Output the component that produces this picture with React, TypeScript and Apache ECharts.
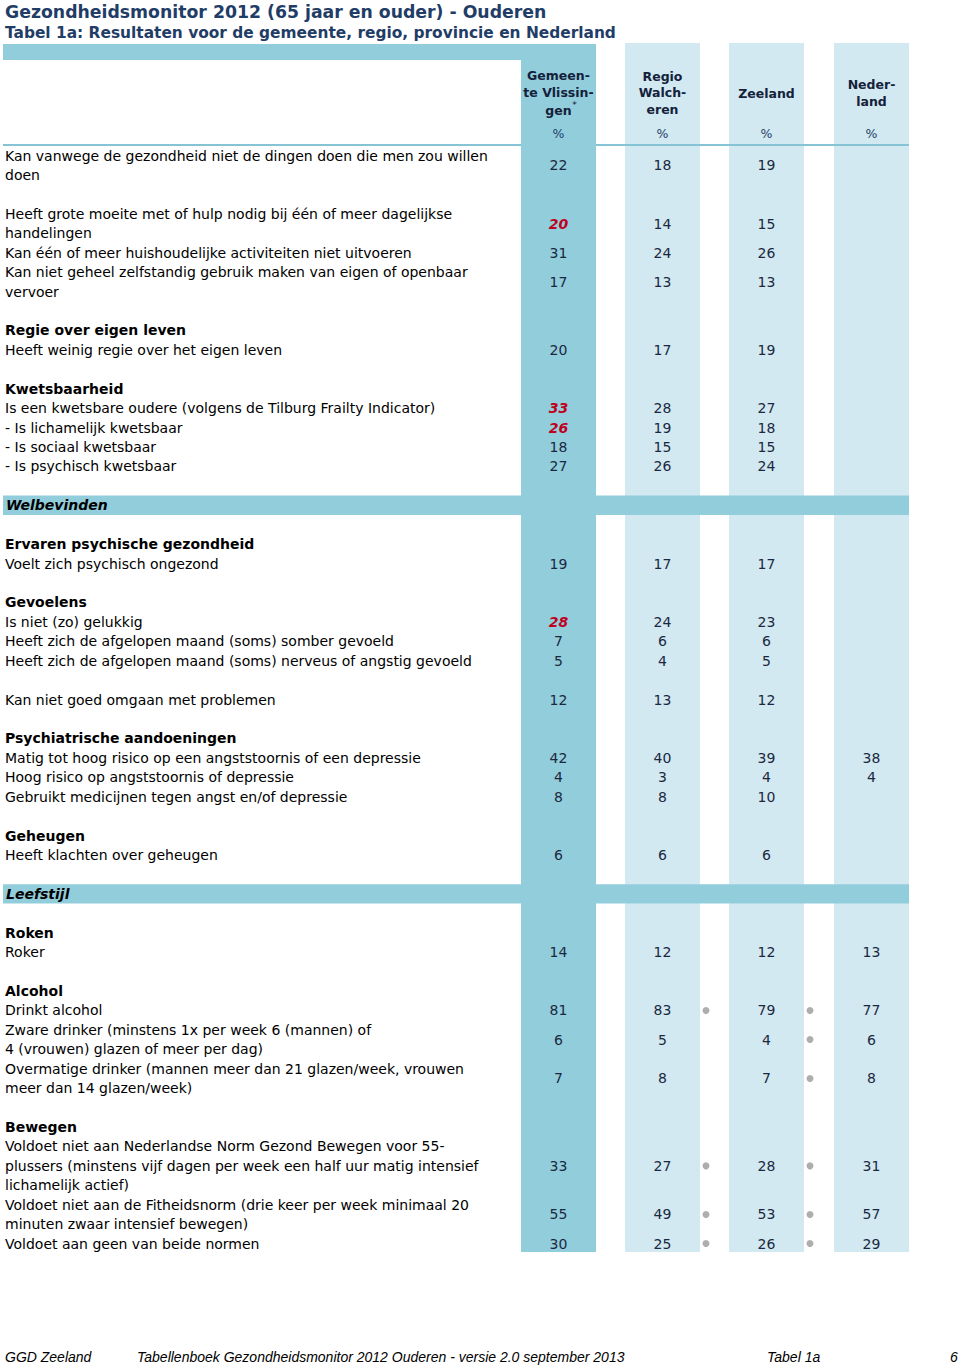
import React, { useEffect, useRef } from "react";
import * as echarts from "echarts";

// ---------- data ----------
const TITLE = "Gezondheidsmonitor 2012 (65 jaar en ouder) - Ouderen";
const SUBTITLE = "Tabel 1a: Resultaten voor de gemeente, regio, provincie en Nederland";
const columnHeaders = [
  ["Gemeen-", "te Vlissin-", "gen"],
  ["Regio", "Walch-", "eren"],
  ["Zeeland"],
  ["Neder-", "land"],
];
const unitLabel = "%";

const indicators = [
  "Kan vanwege de gezondheid niet de dingen doen die men zou willen\ndoen",
  "Heeft grote moeite met of hulp nodig bij één of meer dagelijkse\nhandelingen",
  "Kan één of meer huishoudelijke activiteiten niet uitvoeren",
  "Kan niet geheel zelfstandig gebruik maken van eigen of openbaar\nvervoer",
  "Heeft weinig regie over het eigen leven",
  "Is een kwetsbare oudere (volgens de Tilburg Frailty Indicator)",
  "- Is lichamelijk kwetsbaar",
  "- Is sociaal kwetsbaar",
  "- Is psychisch kwetsbaar",
  "Voelt zich psychisch ongezond",
  "Is niet (zo) gelukkig",
  "Heeft zich de afgelopen maand (soms) somber gevoeld",
  "Heeft zich de afgelopen maand (soms) nerveus of angstig gevoeld",
  "Kan niet goed omgaan met problemen",
  "Matig tot hoog risico op een angststoornis of een depressie",
  "Hoog risico op angststoornis of depressie",
  "Gebruikt medicijnen tegen angst en/of depressie",
  "Heeft klachten over geheugen",
  "Roker",
  "Drinkt alcohol",
  "Zware drinker (minstens 1x per week 6 (mannen) of\n4 (vrouwen) glazen of meer per dag)",
  "Overmatige drinker (mannen meer dan 21 glazen/week, vrouwen\nmeer dan 14 glazen/week)",
  "Voldoet niet aan Nederlandse Norm Gezond Bewegen voor 55-\nplussers (minstens vijf dagen per week een half uur matig intensief\nlichamelijk actief)",
  "Voldoet niet aan de Fitheidsnorm (drie keer per week minimaal 20\nminuten zwaar intensief bewegen)",
  "Voldoet aan geen van beide normen",
];
const indicatorLine = [0, 3, 5, 6, 10, 13, 14, 15, 16, 21, 24, 25, 26, 28, 31, 32, 33, 36, 41, 44, 45, 47, 51, 54, 56];

const gemeente = [22, 20, 31, 17, 20, 33, 26, 18, 27, 19, 28, 7, 5, 12, 42, 4, 8, 6, 14, 81, 6, 7, 33, 55, 30];
const regio = [18, 14, 24, 13, 17, 28, 19, 15, 26, 17, 24, 6, 4, 13, 40, 3, 8, 6, 12, 83, 5, 8, 27, 49, 25];
const zeeland = [19, 15, 26, 13, 19, 27, 18, 15, 24, 17, 23, 6, 5, 12, 39, 4, 10, 6, 12, 79, 4, 7, 28, 53, 26];
const nederland = [null, null, null, null, null, null, null, null, null, null, null, null, null, null, 38, 4, null, null, 13, 77, 6, 8, 31, 57, 29];
const gemeenteSignificant = [1, 5, 6, 10];
const dotRegioZeeland = [19, 22, 23, 24];
const dotZeelandNederland = [19, 20, 21, 22, 23, 24];

const subheadings = ["Regie over eigen leven", "Kwetsbaarheid", "Ervaren psychische gezondheid", "Gevoelens", "Psychiatrische aandoeningen", "Geheugen", "Roken", "Alcohol", "Bewegen"];
const subheadingLine = [9, 12, 20, 23, 30, 35, 40, 43, 50];
const sections = ["Welbevinden", "Leefstijl"];
const sectionLine = [18, 38];

const footer = ["GGD Zeeland", "Tabellenboek Gezondheidsmonitor 2012 Ouderen - versie 2.0 september 2013", "Tabel 1a", "6"];

// ---------- layout ----------
const W = 960;
const H = 1368;
const P = 19.43; // line pitch
const LINE0 = 155.5; // pixel of line 0
const pxToLine = (px: number) => (px - LINE0) / P;
const Y_MIN = pxToLine(0);
const Y_MAX = pxToLine(H);
const COL_X = [558.5, 662.5, 766.5, 871.5];
const COL_HALF = 37.5;
const DOT_X = [706, 810];
const LABEL_X = 5;
const DARK = "#92cddc";
const LIGHT = "#d2e9f1";
const NUM_COLOR = "#1b2840";
const RED = "#c00020";
const FONT = '"DejaVu Sans", Verdana, sans-serif';
const FS = 14;

const bgRects: { x0: number; x1: number; y0: number; y1: number; color: string }[] = [
  { x0: COL_X[1] - COL_HALF, x1: COL_X[1] + COL_HALF, y0: 43, y1: 1252, color: LIGHT },
  { x0: COL_X[2] - COL_HALF, x1: COL_X[2] + COL_HALF, y0: 43, y1: 1252, color: LIGHT },
  { x0: COL_X[3] - COL_HALF, x1: COL_X[3] + COL_HALF, y0: 43, y1: 1252, color: LIGHT },
  { x0: 3, x1: 909, y0: 144, y1: 146, color: "#86c3d4" },
  ...sectionLine.map((l) => ({ x0: 3, x1: 909, y0: LINE0 + (l - 0.5) * P, y1: LINE0 + (l + 0.5) * P, color: DARK })),
  { x0: 3, x1: COL_X[0] + COL_HALF, y0: 44, y1: 60, color: DARK },
  { x0: COL_X[0] - COL_HALF, x1: COL_X[0] + COL_HALF, y0: 44, y1: 1252, color: DARK },
];

const nLines = (i: number) => indicators[i].split("\n").length;
const centerLine = (i: number) => indicatorLine[i] + (nLines(i) - 1) / 2;

function textEl(x: number, y: number, text: string, font: string, fill: string, align: string) {
  return {
    type: "text",
    x,
    y,
    z: 20,
    style: {
      text,
      font,
      fill,
      align,
      textAlign: align,
      verticalAlign: "middle",
      textVerticalAlign: "middle",
    },
  };
}

function buildOption() {
  const series: any[] = [];

  series.push({
    type: "custom",
    silent: true,
    data: bgRects.map((r) => [r.x0, pxToLine(r.y0), r.x1, pxToLine(r.y1)]),
    encode: { x: [0, 2], y: [1, 3] },
    renderItem: (params: any, api: any) => {
      const r = bgRects[params.dataIndex];
      const p0 = api.coord([api.value(0), api.value(1)]);
      const p1 = api.coord([api.value(2), api.value(3)]);
      return {
        type: "rect",
        shape: { x: p0[0], y: p0[1], width: p1[0] - p0[0], height: p1[1] - p0[1] },
        style: { fill: r.color },
      };
    },
    z: 1,
  });

  // indicator labels
  series.push({
    type: "custom",
    silent: true,
    data: indicators.map((_, i) => [LABEL_X, indicatorLine[i]]),
    renderItem: (params: any, api: any) => {
      const i = params.dataIndex;
      const lines = indicators[i].split("\n");
      return {
        type: "group",
        children: lines.map((ln, k) => {
          const p = api.coord([api.value(0), api.value(1) + k]);
          return textEl(p[0], p[1], ln, `${FS}px ${FONT}`, "#000", "left");
        }),
      };
    },
    z: 3,
  });

  // subheadings
  series.push({
    type: "custom",
    silent: true,
    data: subheadings.map((_, i) => [LABEL_X, subheadingLine[i]]),
    renderItem: (params: any, api: any) => {
      const p = api.coord([api.value(0), api.value(1)]);
      return textEl(p[0], p[1], subheadings[params.dataIndex], `bold ${FS}px ${FONT}`, "#000", "left");
    },
    z: 3,
  });

  // sections
  series.push({
    type: "custom",
    silent: true,
    data: sections.map((_, i) => [LABEL_X + 1, sectionLine[i]]),
    renderItem: (params: any, api: any) => {
      const p = api.coord([api.value(0), api.value(1)]);
      return textEl(p[0], p[1], sections[params.dataIndex], `italic bold ${FS}px ${FONT}`, "#000", "left");
    },
    z: 3,
  });

  // value columns
  const cols = [gemeente, regio, zeeland, nederland];
  cols.forEach((vals, c) => {
    const data: any[] = [];
    vals.forEach((v, i) => {
      if (v === null || v === undefined) return;
      const sig = c === 0 && gemeenteSignificant.includes(i) ? 1 : 0;
      data.push([COL_X[c], centerLine(i), v, sig]);
    });
    series.push({
      type: "custom",
      silent: true,
      data,
      encode: { x: 0, y: 1 },
      renderItem: (params: any, api: any) => {
        const p = api.coord([api.value(0), api.value(1)]);
        const sig = api.value(3) === 1;
        return textEl(
          p[0],
          p[1],
          String(api.value(2)),
          sig ? `italic bold ${FS}px ${FONT}` : `${FS}px ${FONT}`,
          sig ? RED : NUM_COLOR,
          "center"
        );
      },
      z: 3,
    });
  });

  // significance dots
  series.push({
    type: "scatter",
    silent: true,
    symbol: "circle",
    symbolSize: 7,
    itemStyle: { color: "#9a9a9a" },
    data: [
      ...dotRegioZeeland.map((i) => [DOT_X[0], centerLine(i)]),
      ...dotZeelandNederland.map((i) => [DOT_X[1], centerLine(i)]),
    ],
    z: 3,
  });

  const graphic: any[] = [];
  graphic.push(textEl(5, 12, TITLE, `bold 17.3px ${FONT}`, "#1f3d66", "left"));
  graphic.push(textEl(5, 32.5, SUBTITLE, `bold 15.4px ${FONT}`, "#1f3d66", "left"));
  const headerY = [
    [75, 92, 110],
    [76, 92, 109],
    [93],
    [84, 101],
  ];
  columnHeaders.forEach((lines, c) => {
    lines.forEach((ln, k) => {
      graphic.push(textEl(COL_X[c], headerY[c][k], ln, `bold 12.5px ${FONT}`, "#14213a", "center"));
    });
    graphic.push(textEl(COL_X[c], 133.5, unitLabel, `12.5px ${FONT}`, "#1f3d66", "center"));
  });
  graphic.push(textEl(COL_X[0] + 16, 104.5, "*", `9px ${FONT}`, "#14213a", "center"));
  const footX = [5, 137, 767, 950];
  footer.forEach((t, k) => {
    graphic.push(textEl(footX[k], 1357, t, `italic 14px "Liberation Sans", Arial, sans-serif`, "#000", "left"));
  });

  return {
    animation: false,
    grid: { left: 0, top: 0, width: W, height: H, show: false },
    xAxis: { type: "value", min: 0, max: W, show: false },
    yAxis: { type: "value", inverse: true, min: Y_MIN, max: Y_MAX, show: false },
    tooltip: { show: false },
    series,
    graphic,
  };
}

export default function App() {
  const ref = useRef<HTMLDivElement>(null);
  useEffect(() => {
    if (!ref.current) return;
    const chart = echarts.init(ref.current, undefined, { renderer: "svg" });
    chart.setOption(buildOption() as any);
    return () => chart.dispose();
  }, []);
  return (
    <div
      ref={ref}
      style={{ position: "absolute", left: 0, top: 0, width: W, height: H, background: "#fff" }}
    />
  );
}
